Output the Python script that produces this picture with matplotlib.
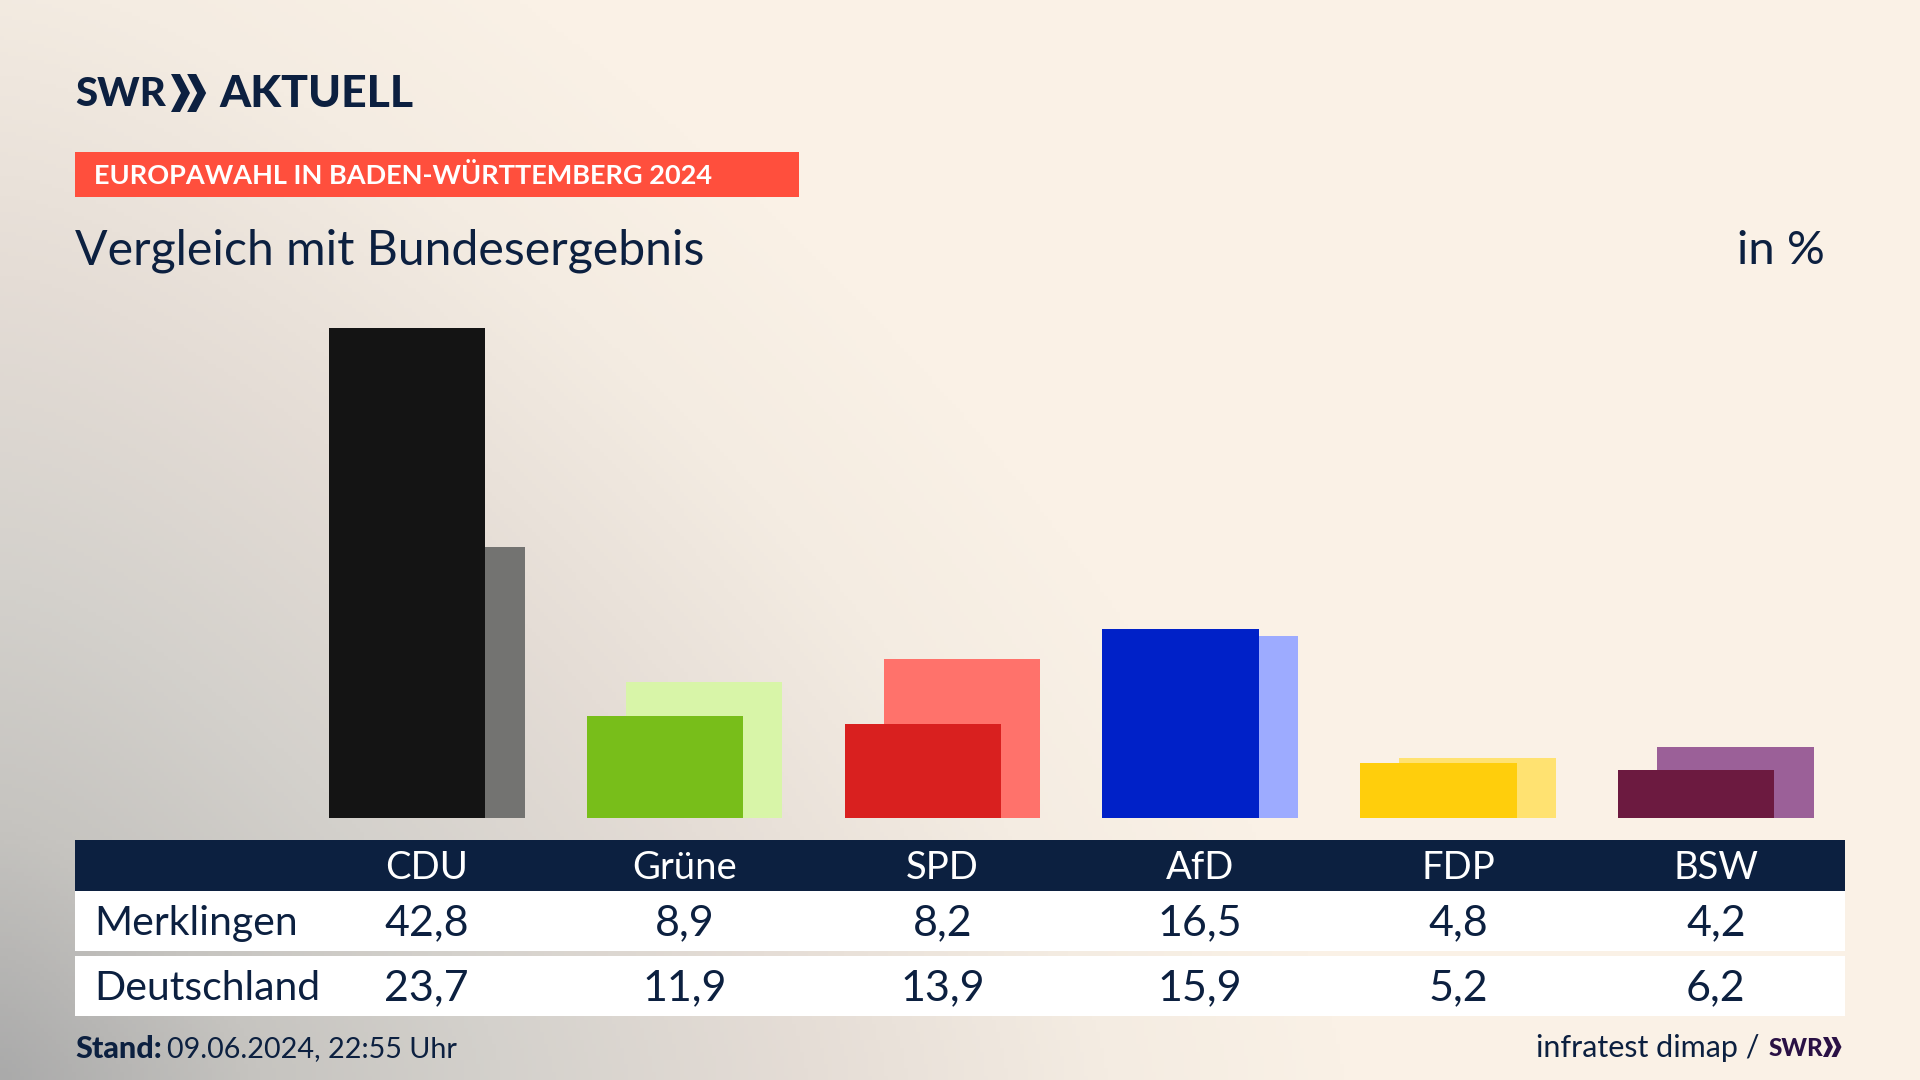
import numpy as np
import matplotlib
matplotlib.use("Agg")
import matplotlib.pyplot as plt
from matplotlib.colors import LinearSegmentedColormap
from matplotlib.patches import Polygon, Rectangle

parties = ["CDU", "Grüne", "SPD", "AfD", "FDP", "BSW"]
merklingen = [42.8, 8.9, 8.2, 16.5, 4.8, 4.2]
deutschland = [23.7, 11.9, 13.9, 15.9, 5.2, 6.2]
front_colors = ["#141414", "#78BE1A", "#D9201F", "#0021C8", "#FFCE0C", "#6C1A40"]
back_colors = ["#737371", "#D8F5A8", "#FF726B", "#9DABFF", "#FFE271", "#9B6098"]

NAVY = "#0C2040"
CREAM = "#FAF1E6"
FONT = "Lato"

plt.rcParams["font.family"] = FONT

fig = plt.figure(figsize=(19.2, 10.8), dpi=100)

# whole picture in pixels, y going down
page = fig.add_axes([0, 0, 1, 1])
page.set_xlim(0, 1920)
page.set_ylim(1080, 0)
page.axis("off")

# grey glow from the lower left corner
xx, yy = np.meshgrid(np.linspace(0, 1920, 480), np.linspace(0, 1080, 270))
dist = ((xx / 1350) ** 1.4 + ((1080 - yy) / 1350) ** 1.4) ** (1 / 1.4)
glow = LinearSegmentedColormap.from_list("glow", [
    (0, "#AAAAAA"), (0.19, "#C6C4C0"), (0.37, "#D4D1CC"), (0.6, "#E5DDD6"), (0.82, "#F4ECE2"), (1, CREAM)])
page.imshow(np.clip(dist, 0, 1), cmap=glow, extent=[0, 1920, 1080, 0], aspect="auto", zorder=0)


def chevrons(x, top, bot, w, th, color):
    mid = (top + bot) / 2
    d = w - th
    for off in (0, w * 0.85):
        x0 = x + off
        pts = [(x0, top), (x0 + th, top), (x0 + th + d, mid), (x0 + th, bot), (x0, bot), (x0 + d, mid)]
        page.add_patch(Polygon(pts, closed=True, color=color, lw=0, zorder=3))


# logo
page.text(75, 94, "SWR", color=NAVY, fontsize=29, fontweight="black", va="center", ha="left", zorder=3)
chevrons(171, 74, 112, 19, 9, NAVY)
page.text(219, 94, "AKTUELL", color=NAVY, fontsize=32, fontweight="black", va="center", ha="left", zorder=3)

# red label
page.add_patch(Rectangle((75, 152), 724, 45, color="#FF4F3D", lw=0, zorder=2))
page.text(94, 176, "EUROPAWAHL IN BADEN-WÜRTTEMBERG 2024", color="white", fontsize=19.5,
          fontweight="bold", va="center", ha="left", zorder=3)

page.text(75, 251, "Vergleich mit Bundesergebnis", color=NAVY, fontsize=34.7, va="center", ha="left", zorder=3)
page.text(1825, 251, "in %", color=NAVY, fontsize=34, va="center", ha="right", zorder=3)

# bars, 257.8 px per party and 11.43 px per percent
bars = fig.add_axes([426.8 / 1920, (1080 - 817.6) / 1080, 257.8 * 5 / 1920, 11.43 * 45 / 1080])
bars.set_xlim(0, 5)
bars.set_ylim(0, 45)
bars.axis("off")
bars.patch.set_alpha(0)
pos = np.arange(len(parties))
bars.bar(pos + 0.076, deutschland, width=0.606, color=back_colors, clip_on=False)
bars.bar(pos - 0.076, merklingen, width=0.606, color=front_colors, clip_on=False)

# table
page.add_patch(Rectangle((75, 840), 1770, 51, color=NAVY, lw=0, zorder=2))
page.add_patch(Rectangle((75, 891), 1770, 60, color="white", lw=0, zorder=2))
page.add_patch(Rectangle((75, 956), 1770, 60, color="white", lw=0, zorder=2))

page.text(94, 923, "Merklingen", color=NAVY, fontsize=29.5, va="center", ha="left", zorder=3)
page.text(94, 988, "Deutschland", color=NAVY, fontsize=29.5, va="center", ha="left", zorder=3)

for i, party in enumerate(parties):
    cx = 426.8 + 257.8 * i
    page.text(cx, 868, party, color="white", fontsize=27.5, va="center", ha="center", zorder=3)
    page.text(cx, 923, f"{merklingen[i]:.1f}".replace(".", ","), color=NAVY, fontsize=31,
              va="center", ha="center", zorder=3)
    page.text(cx, 988, f"{deutschland[i]:.1f}".replace(".", ","), color=NAVY, fontsize=31,
              va="center", ha="center", zorder=3)

# footer
page.text(75, 1049, "Stand:", color=NAVY, fontsize=22, fontweight="black", va="center", ha="left", zorder=3)
page.text(167, 1049, "09.06.2024, 22:55 Uhr", color=NAVY, fontsize=20.7, va="center", ha="left", zorder=3)
page.text(1760, 1048, "infratest dimap /", color=NAVY, fontsize=22, va="center", ha="right", zorder=3)
page.text(1769, 1048, "SWR", color="#2A1145", fontsize=17.5, fontweight="black", va="center", ha="left", zorder=3)
chevrons(1823, 1037, 1057, 10, 5, "#2A1145")

fig.savefig("out.png", dpi=100)
